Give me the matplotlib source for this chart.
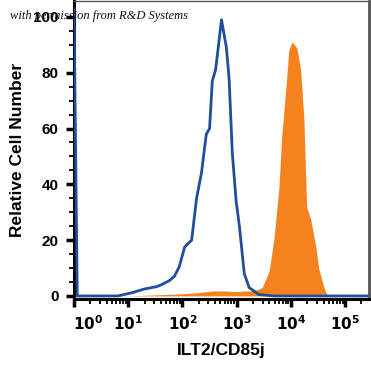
import numpy as np
import matplotlib
matplotlib.use("Agg")
import matplotlib.pyplot as plt
from matplotlib.ticker import LogLocator, NullFormatter, FixedLocator
import matplotlib.transforms as mtransforms

# ---- data (log10 of fluorescence intensity, relative cell number) ----
isotype_log = [0.00, 0.06, 0.81, 1.08, 1.30, 1.52, 1.61, 1.76, 1.85, 1.94, 2.04, 2.17,
               2.26, 2.35, 2.44, 2.50, 2.55, 2.61, 2.66, 2.72, 2.81, 2.86, 2.92, 2.99,
               3.05, 3.14, 3.23, 3.41, 3.69, 5.44]
isotype_val = [103, 0, 0, 1.2, 2.5, 3.3, 4, 5.5, 7, 10.4, 17.5, 20,
               35, 44, 58, 60, 77, 81, 89, 99, 89, 78, 51, 34,
               25, 8, 3, 0.5, 0, 0]

stained_log = [0.97, 1.39, 1.94, 2.31, 2.55, 2.77, 2.99, 3.14, 3.32, 3.47, 3.60, 3.69,
               3.78, 3.83, 3.91, 3.96, 4.02, 4.11, 4.18, 4.24, 4.29, 4.37, 4.46, 4.51,
               4.61, 4.66, 4.79]
stained_val = [0, 0.3, 0.7, 1.2, 1.8, 1.8, 1.5, 1.8, 1.8, 3, 9, 21,
               39, 57, 75, 88, 91, 89, 81, 63, 32, 27, 17.5, 10,
               3, 0.5, 0]

y_ticks = [0, 20, 40, 60, 80, 100]
x_decades = [0, 1, 2, 3, 4, 5]
x_label = "ILT2/CD85j"
y_label = "Relative Cell Number"
credit = "with permission from R&D Systems"

plt.rcParams['font.family'] = ['Liberation Sans', 'DejaVu Sans']

fig = plt.figure(figsize=(3.71, 3.72), dpi=100)
ax = fig.add_axes([74 / 371, 1 - 299 / 372, (369 - 74) / 371, (299 - 1) / 372])

sx = 10 ** np.array(stained_log)
ax.fill_between(sx, stained_val, 0, color="#f5821f", lw=0, zorder=2)

ix = 10 ** np.array(isotype_log)
ax.plot(ix, isotype_val, color="#1f4e9c", lw=2.0, zorder=3, clip_on=True)

ax.set_xscale("log")
ax.set_xlim(10 ** 0, 10 ** 5.44)
ax.set_ylim(-1.1, 105.7)

ax.xaxis.set_major_locator(FixedLocator([10 ** d for d in x_decades]))
ax.set_xticklabels([r"$\mathbf{10^{%d}}$" % d for d in x_decades])
ax.xaxis.set_minor_locator(LogLocator(base=10, subs=np.arange(2, 10), numticks=20))
ax.xaxis.set_minor_formatter(NullFormatter())

ax.set_yticks(y_ticks)
ax.set_yticks(np.arange(0, 101, 5), minor=True)

ax.tick_params(axis="both", which="major", direction="out", length=6, width=2.5,
               labelsize=11, color="black")
ax.tick_params(axis="both", which="minor", direction="out", length=3.5, width=1.3,
               color="black")
ax.tick_params(axis="x", which="major", pad=5)
ax.tick_params(axis="y", which="major", pad=5)
for lab in ax.get_yticklabels():
    lab.set_fontweight("bold")

# shift the 10^0 label like the reference
xl = ax.get_xticklabels()
off = mtransforms.ScaledTranslation(14 / 100, 0, fig.dpi_scale_trans)
xl[0].set_transform(xl[0].get_transform() + off)

for s in ["left", "bottom"]:
    ax.spines[s].set_linewidth(2.2)
    ax.spines[s].set_color("black")
ax.spines["top"].set_linewidth(1.0)
ax.spines["top"].set_color("#555555")
ax.spines["right"].set_linewidth(2.0)
ax.spines["right"].set_color("#555555")

ax.set_xlabel(x_label, fontsize=12.5, fontweight="bold", labelpad=7)
ax.set_ylabel(y_label, fontsize=12.5, fontweight="bold", labelpad=6)

fig.text(10 / 371, 1 - 19 / 372, credit, fontsize=9, style="italic",
         family=["Liberation Serif", "DejaVu Serif"], color="#111111",
         va="baseline", ha="left", zorder=0)

fig.savefig("out.png", dpi=100)
